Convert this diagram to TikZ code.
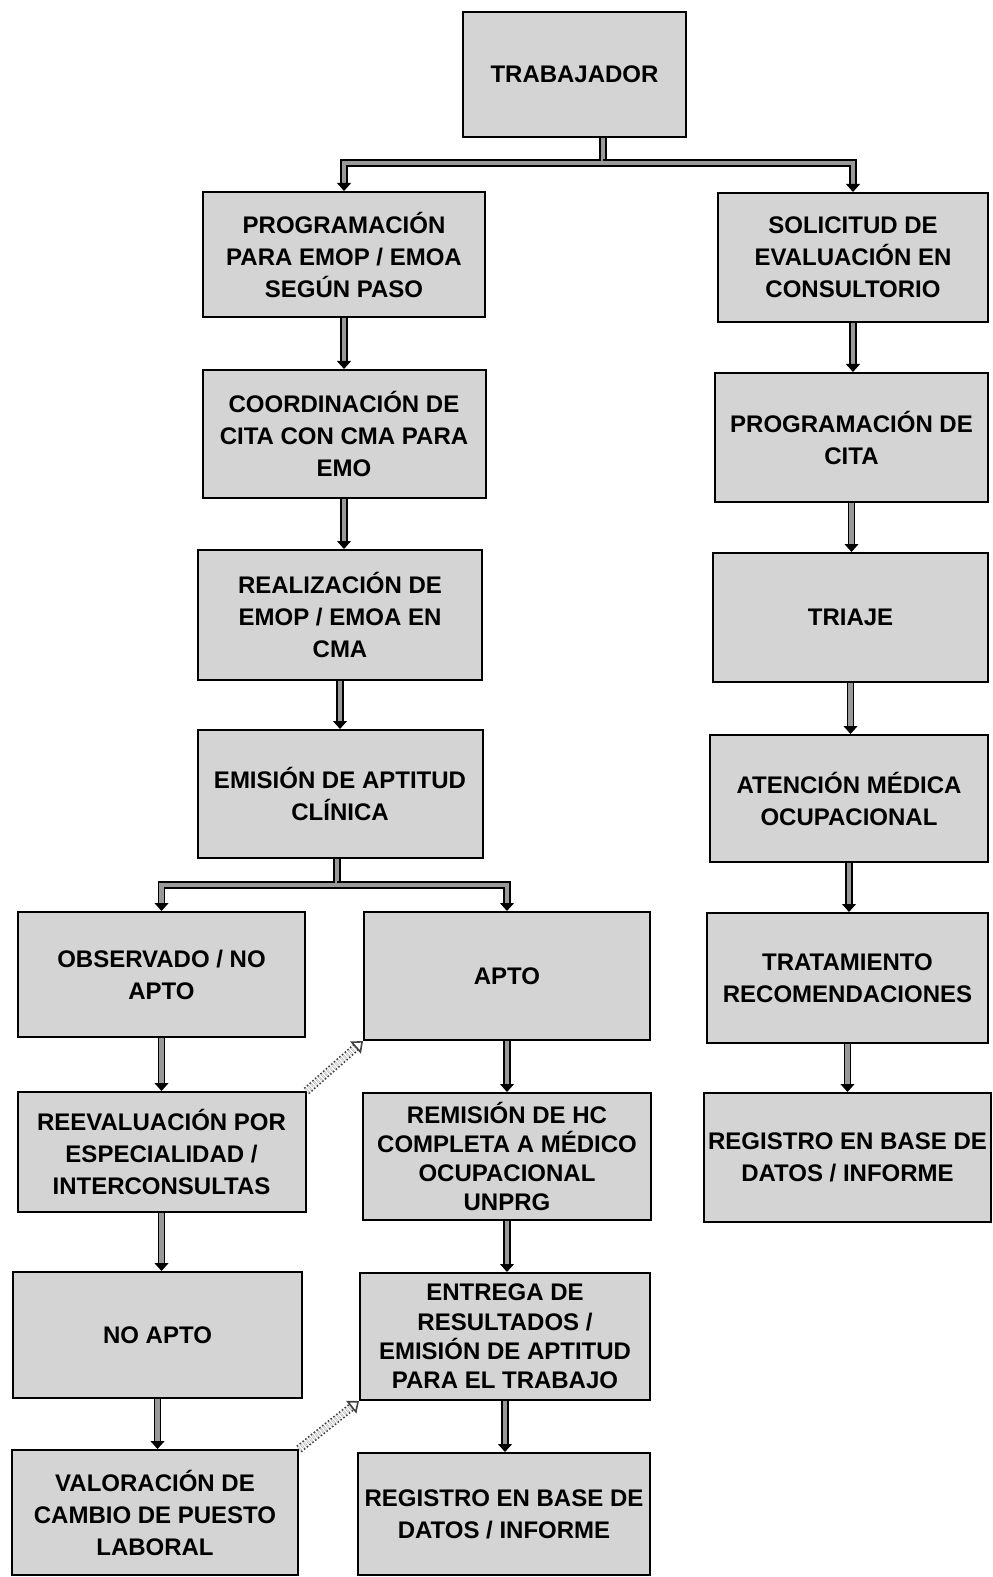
\documentclass[tikz,border=0pt]{standalone}
\usepackage{fontspec}
\setmainfont{Liberation Sans}
\usetikzlibrary{arrows.meta}
\tikzset{
  box/.style={draw=black, line width=1pt, fill=black!17, align=center, inner sep=2pt,
    font=\fontsize{12}{16}\selectfont\bfseries},
  tight/.style={font=\fontsize{12}{14.6}\selectfont\bfseries},
  conn/.style={draw=black, line width=0.6pt, double=black!40, double distance=2.4pt,
    -{Triangle[length=4pt,width=7pt]}},
  diag/.style={draw=black!75, densely dotted, line width=0.8pt, double=black!10, double distance=2.6pt,
    -{Triangle[open,length=5pt,width=8pt]}}
}
\begin{document}
\begin{tikzpicture}[x=0.5pt,y=-0.5pt]
\useasboundingbox (0,0) rectangle (992,1577);
% top
\node[box, minimum width=111.5pt, minimum height=62.5pt] (trab) at (574.5,74.5) {TRABAJADOR};
% left column
\node[box, minimum width=141pt, minimum height=62.5pt] (prog) at (344,254.5) {PROGRAMACIÓN\\PARA EMOP / EMOA\\SEGÚN PASO};
\node[box, minimum width=141.5pt, minimum height=64pt] (coord) at (344,434) {COORDINACIÓN DE\\CITA CON CMA PARA\\EMO};
\node[box, minimum width=142pt, minimum height=65pt] (real) at (340,615) {REALIZACIÓN DE\\EMOP / EMOA EN\\CMA};
\node[box, minimum width=142.5pt, minimum height=64pt] (emis) at (340,794) {EMISIÓN DE APTITUD\\CLÍNICA};
% branches
\node[box, minimum width=143.5pt, minimum height=62.5pt] (obs) at (161.5,974.5) {OBSERVADO / NO\\APTO};
\node[box, minimum width=143pt, minimum height=64pt] (apto) at (507,976) {APTO};
\node[box, minimum width=144pt, minimum height=60pt] (reev) at (161.5,1152) {REEVALUACIÓN POR\\ESPECIALIDAD /\\INTERCONSULTAS};
\node[box, tight, minimum width=144pt, minimum height=63.5pt] (remis) at (507,1156.5) {REMISIÓN DE HC\\COMPLETA A MÉDICO\\OCUPACIONAL\\UNPRG};
\node[box, minimum width=144.5pt, minimum height=63pt] (noapto) at (157.5,1335) {NO APTO};
\node[box, tight, minimum width=145pt, minimum height=63.5pt] (entrega) at (505,1336.5) {ENTREGA DE\\RESULTADOS /\\EMISIÓN DE APTITUD\\PARA EL TRABAJO};
\node[box, minimum width=143pt, minimum height=62.5pt] (valor) at (155,1512.5) {VALORACIÓN DE\\CAMBIO DE PUESTO\\LABORAL};
\node[box, minimum width=146pt, minimum height=61pt] (regA) at (504,1514) {REGISTRO EN BASE DE\\DATOS / INFORME};
% right column
\node[box, minimum width=135pt, minimum height=64.5pt] (sol) at (853,257.5) {SOLICITUD DE\\EVALUACIÓN EN\\CONSULTORIO};
\node[box, minimum width=136.5pt, minimum height=64.5pt] (pcita) at (851.5,437.5) {PROGRAMACIÓN DE\\CITA};
\node[box, minimum width=137.5pt, minimum height=64.5pt] (triaje) at (850.5,617.5) {TRIAJE};
\node[box, minimum width=139pt, minimum height=63.5pt] (aten) at (849,798.5) {ATENCIÓN MÉDICA\\OCUPACIONAL};
\node[box, minimum width=140.5pt, minimum height=65pt] (trat) at (847.5,978) {TRATAMIENTO\\RECOMENDACIONES};
\node[box, minimum width=140.5pt, minimum height=64.5pt] (regB) at (847.5,1157.5) {REGISTRO EN BASE DE\\DATOS / INFORME};
% split points
\coordinate (tsplit) at (603,163);
\coordinate (esplit) at (337,885);
% connectors
\draw[conn] (trab.south -| tsplit) -- (tsplit) -| (prog.north);
\draw[conn] (tsplit) -| (sol.north);
\draw[conn] (prog.south) -- (prog.south |- coord.north);
\draw[conn] (coord.south) -- (coord.south |- real.north);
\draw[conn] (real.south) -- (real.south |- emis.north);
\draw[conn] (emis.south -| esplit) -- (esplit) -| (obs.north);
\draw[conn] (esplit) -| (apto.north);
\draw[conn] (obs.south) -- (obs.south |- reev.north);
\draw[conn] (reev.south) -- (reev.south |- noapto.north);
\draw[conn] (noapto.south) -- (noapto.south |- valor.north);
\draw[conn] (apto.south) -- (apto.south |- remis.north);
\draw[conn] (remis.south) -- (remis.south |- entrega.north);
\draw[conn] (entrega.south) -- (entrega.south |- regA.north);
\draw[conn] (sol.south) -- (sol.south |- pcita.north);
\draw[conn] (pcita.south) -- (pcita.south |- triaje.north);
\draw[conn] (triaje.south) -- (triaje.south |- aten.north);
\draw[conn] (aten.south) -- (aten.south |- trat.north);
\draw[conn] (trat.south) -- (trat.south |- regB.north);
\draw[diag] (reev.north east) -- (apto.south west);
\draw[diag] (valor.north east) -- (entrega.south west);
\end{tikzpicture}
\end{document}
